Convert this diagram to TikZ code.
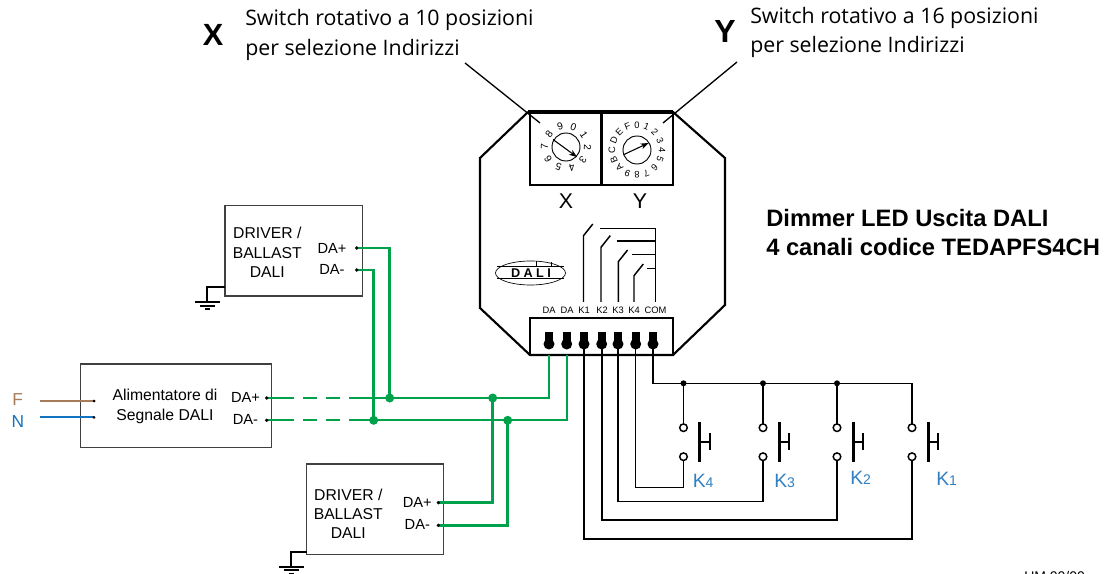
\documentclass[tikz,border=0pt]{standalone}
\usepackage{fontspec}
\setmainfont{Liberation Sans}
\newfontfamily\swfont{Open Sans}
\usepackage{tikz}
\usetikzlibrary{arrows,arrows.meta,calc}
\definecolor{wiregreen}{HTML}{00A14B}
\definecolor{labelblue}{HTML}{2F7FC1}
\definecolor{wirebrown}{HTML}{A67C5B}
\definecolor{wireblue}{HTML}{1273C0}
\tikzset{
  blockbox/.style={draw=black!75,line width=1.1pt},
  blocktext/.style={align=center,font=\fontsize{11.8}{14.6}\selectfont,inner sep=0pt},
  pintext/.style={inner sep=0pt,font=\fontsize{11}{12}\selectfont},
  dialtext/.style={inner sep=0pt,font=\fontsize{7.6}{8}\selectfont},
  dialtexty/.style={inner sep=0pt,font=\fontsize{7}{8}\selectfont},
  daline/.style={wiregreen,line width=1.5pt},
  dariser/.style={wiregreen,line width=2.2pt},
  swtext/.style={anchor=west,inner sep=0pt,font=\swfont\fontsize{16}{18}\selectfont},
  keylabel/.style={anchor=west,inner sep=0pt,text=labelblue,font=\fontsize{14.5}{16}\selectfont},
  termlabel/.style={inner sep=0pt,font=\fontsize{7}{8}\selectfont},
  titletext/.style={anchor=west,inner sep=0pt,font=\bfseries\fontsize{17.8}{20}\selectfont},
}
\newcommand{\keysub}[1]{{\fontsize{10.5}{12}\selectfont #1}}

\begin{document}
\begin{tikzpicture}[x=0.75pt,y=-0.75pt,line cap=butt]

\useasboundingbox (0,0) rectangle (1108,574);

% device body
\coordinate (tl) at (528,112);
\coordinate (tr) at (673,112);
\coordinate (bl) at (530,355);
\coordinate (br) at (673,355);
\draw[line width=1.6pt] (tl) -- (480,158) -- (480,308) -- (bl) -- (br) -- (725,305) -- (725,158) -- (tr);
\draw[line width=3.2pt] (tl) -- (tr);

% switches
\coordinate (sxa) at (530,112);
\coordinate (sxb) at (601.7,185);
\coordinate (sya) at (673,112);
\draw[line width=1.8pt] (sxa) rectangle (sxb);
\draw[line width=1.8pt] (sxb) rectangle (sya);
\draw[line width=2.4pt] (601.7,112) -- (sxb);

\coordinate (dialx) at (566,147);
\coordinate (dialy) at (637,150);
\draw[line width=0.7pt] (dialx) circle (14);
\draw[line width=0.7pt] (dialy) circle (14);
\draw[line width=0.8pt,-{Stealth[length=6pt,width=4.5pt]}] (553,139.5) -- (577,157);
\draw[line width=0.8pt,-{Stealth[length=6pt,width=4.5pt]}] (624,154.5) -- (648.5,143);

\foreach \d [count=\n from 0] in {0,...,9}
    \node[dialtext,rotate={70-36*\n-90}] (dx\n)
        at ($(dialx)+({70-36*\n}:21.5 and -21.5)$) {\d};
\foreach \d [count=\n from 0] in {0,1,2,3,4,5,6,7,8,9,A,B,C,D,E,F}
    \node[dialtexty,rotate={90-22.5*\n-90}] (dy\n)
        at ($(dialy)+({90-22.5*\n}:25 and -25)$) {\d};

\node[inner sep=0pt,font=\fontsize{16}{17}\selectfont] (xlabel) at (566,201) {X};
\node[inner sep=0pt,font=\fontsize{16}{17}\selectfont] (ylabel) at (640,201) {Y};

% leaders and captions
\coordinate (xfree) at (540,123);
\coordinate (yfree) at (663,123);
\coordinate (xtop) at (465,63);
\coordinate (ytop) at (737,62);
\draw[line width=1pt] (xtop) -- (xfree);
\draw[line width=1pt] (ytop) -- (yfree);
\node[inner sep=0pt,font=\bfseries\fontsize{23}{24}\selectfont] (bigx) at (213,34.5) {X};
\node[inner sep=0pt,font=\bfseries\fontsize{24}{25}\selectfont] (bigy) at (725,31) {Y};
\node[swtext] (capxa) at (245,20) {Switch rotativo a 10 posizioni};
\node[swtext] (capxb) at (245,49.5) {per selezione Indirizzi};
\node[swtext] (capya) at (750,17.5) {Switch rotativo a 16 posizioni};
\node[swtext] (capyb) at (750,46.5) {per selezione Indirizzi};

\node[titletext] (titlea) at (766,218) {Dimmer LED Uscita DALI};
\node[titletext] (titleb) at (766,247) {4 canali codice TEDAPFS4CH};

% logo
\coordinate (logo) at (530.5,273);
\draw[line width=0.5pt] (logo) ellipse (35 and 12);
\draw[line width=0.7pt] (497,266.7) -- (564,266.7);
\draw[line width=0.7pt] (497,278.7) -- (564,278.7);
\draw[line width=0.5pt] (536,261.2) -- (536,266.7);
\draw[line width=0.5pt] (551.7,262.5) -- (551.7,266.7);
\node[inner sep=0pt,font=\bfseries\fontsize{9.5}{10}\selectfont] (dali) at (531,273) {D\hspace{2.5pt}A\hspace{2.5pt}L\hspace{2.5pt}I};

% terminals
\coordinate (ta) at (530,318);
\draw[line width=1.6pt] (ta) rectangle (br);
\foreach \x/\t/\lx in {549/DA/549,566.7/DA/567,584/K1/584,601.7/K2/602,618/K3/618,635.7/K4/634,653/COM/655.5}
{
    \fill (\x-4,332) rectangle (\x+4,344);
    \fill (\x,344) circle (5.5);
    \node[termlabel] (lab\t\x) at (\lx,310.5) {\t};
}

% relay contacts
\coordinate (comtop) at (655.7,228.3);
\coordinate (combot) at (655.7,302);
\draw[line width=1.1pt] (comtop) -- (combot);
\foreach \x/\y/\h/\s in {583.5/235.7/228.3/600,601/247.3/241/616.7,618.3/261.7/254.3/632.3,634/275.7/268.3/647.3}
{
    \draw[line width=1.1pt] (\x,302) -- (\x,\y) -- (\x+9.3,\y-11.7);
    \draw[line width=1.1pt] (\s,\h) -- (655.7,\h);
}

% push buttons
\foreach \x/\n in {683.5/4,763/3,837/2,912/1}
{
    \coordinate (up\n) at (\x,427.7);
    \coordinate (dn\n) at (\x,456.7);
    \draw[line width=2pt] (\x+16.3,422) -- (\x+16.3,462);
    \draw[line width=1.3pt] (\x+16.3,441.7) -- (\x+26.3,441.7);
    \draw[line width=1.3pt] (\x+26.3,433) -- (\x+26.3,450);
    \coordinate (top\n) at (\x,383.3);
}

\coordinate (com) at (653,344);
\coordinate (ka) at (584,344);
\coordinate (kb) at (601.7,344);
\coordinate (kc) at (618,344);
\coordinate (kd) at (635.7,344);
\draw[line width=1.1pt] (com) |- (top1) -- (up1);
\foreach \n in {2,3,4}
{
    \fill (top\n) circle (3);
    \draw[line width=1.1pt] (top\n) -- (up\n);
}
\draw[line width=1pt] (kd) |- (683.5,487.3) -- (dn4);
\draw[line width=1.2pt] (kc) |- (763,501.3) -- (dn3);
\draw[line width=1.7pt] (kb) |- (837,519.7) -- (dn2);
\draw[line width=2.1pt] (ka) |- (912,539) -- (dn1);
\foreach \n in {1,2,3,4}
{
    \draw[line width=1.1pt,fill=white] (up\n) circle (3.8);
    \draw[line width=1.1pt,fill=white] (dn\n) circle (3.8);
}

\node[keylabel] (k4) at (692.5,481) {K\keysub{4}};
\node[keylabel] (k3) at (774,481) {K\keysub{3}};
\node[keylabel] (k2) at (850,478) {K\keysub{2}};
\node[keylabel] (k1) at (936,479) {K\keysub{1}};

% power supply
\draw[blockbox] (80.7,364) rectangle (271.7,447.7);
\node[blocktext] (psu) at (165,406.5) {Alimentatore di\\Segnale DALI};
\node[pintext] (psup) at (245.5,397.5) {DA+};
\node[pintext] (psum) at (245.5,419) {DA-};
\node[inner sep=0pt,text=wirebrown,font=\fontsize{13}{14}\selectfont] (lf) at (17.7,400) {F};
\node[inner sep=0pt,text=wireblue,font=\fontsize{13}{14}\selectfont] (ln) at (18,421.7) {N};
\coordinate (fa) at (40,401);
\coordinate (fb) at (94,401);
\coordinate (na) at (40,417.3);
\coordinate (nb) at (94,417.3);
\draw[wirebrown,line width=1.4pt] (fa) -- (fb);
\draw[wireblue,line width=1.4pt] (na) -- (nb);
\fill (fb) circle (1.5);
\fill (nb) circle (1.5);

% drivers
\draw[blockbox] (225,205.7) rectangle (362.3,296);
\node[blocktext] (drva) at (267.3,252.5) {DRIVER /\\BALLAST\\DALI};
\node[pintext] (dvap) at (332,248.5) {DA+};
\node[pintext] (dvam) at (332,269) {DA-};
\draw[blockbox] (306.7,464) rectangle (443.7,554.7);
\node[blocktext] (drvb) at (348.3,513.8) {DRIVER /\\BALLAST\\DALI};
\node[pintext] (dvbp) at (417.3,502.7) {DA+};
\node[pintext] (dvbm) at (417.3,524) {DA-};

% ground
\foreach \x/\y/\bx in {225/287.3/207.3,306.7/551.7/291}
{
    \draw[line width=1.7pt] (\x,\y) -- (\bx,\y) -- (\bx,\y+15);
    \draw[line width=1.7pt] (\bx-12.5,\y+15) -- (\bx+12.5,\y+15);
    \draw[line width=1.5pt] (\bx-7.5,\y+18.5) -- (\bx+7.5,\y+18.5);
    \draw[line width=1.2pt] (\bx-2.5,\y+22) -- (\bx+2.5,\y+22);
}

% DALI bus
\coordinate (pp) at (266.7,398);
\coordinate (pm) at (266.7,420.3);
\coordinate (ap) at (356.7,248);
\coordinate (am) at (356.7,270);
\coordinate (bp) at (438.3,502.7);
\coordinate (bm) at (438.3,525.3);
\coordinate (ja) at (389.7,398);
\coordinate (jb) at (373.7,420.3);
\coordinate (jc) at (492.7,398);
\coordinate (jd) at (507.7,420.3);
\coordinate (da1) at (549,355);
\coordinate (da2) at (567,355);
\coordinate (solp) at (349,398);
\coordinate (solm) at (349,420.3);
\foreach \y in {398,420.3}
{
    \draw[daline] (267,\y) -- (294,\y);
    \draw[daline] (303.3,\y) -- (316.7,\y);
    \draw[daline] (326,\y) -- (340,\y);
}
\draw[daline] (solp) -| (da1);
\draw[daline] (solm) -| (da2);
\draw[dariser] (ap) -| (ja);
\draw[dariser] (am) -| (jb);
\draw[dariser] (bp) -| (jc);
\draw[dariser] (bm) -| (jd);
\foreach \j in {ja,jb,jc,jd}
    \fill[wiregreen] (\j) circle (4.5);
\foreach \j in {pp,pm,ap,am,bp,bm}
    \fill (\j) circle (1.8);

\node[anchor=west,inner sep=0pt,font=\fontsize{10.5}{12}\selectfont] (rev) at (1024,576.5) {UM 00/00};

\end{tikzpicture}
\end{document}
